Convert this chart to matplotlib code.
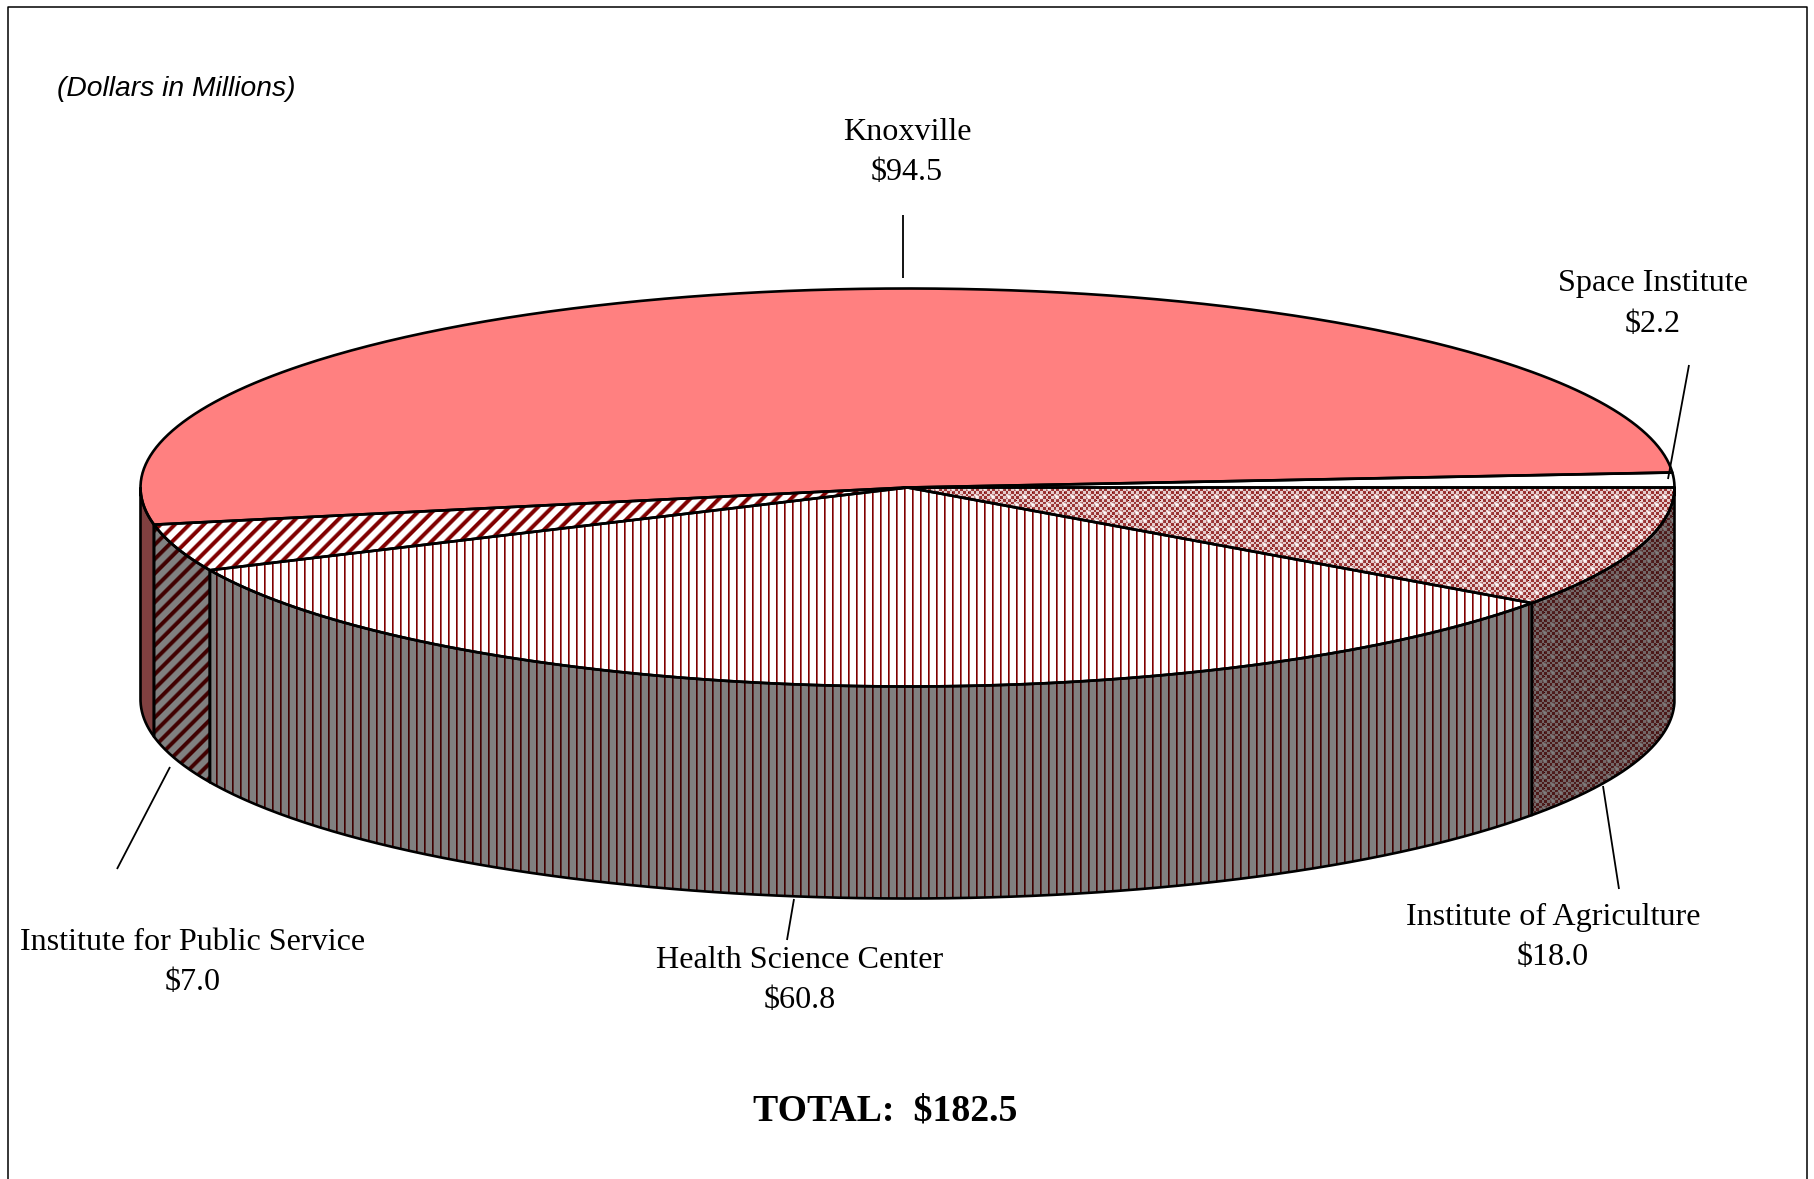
import numpy as np
import matplotlib
matplotlib.use("Agg")
import matplotlib.pyplot as plt
from matplotlib.patches import PathPatch
from matplotlib.path import Path

# slices in the order they go round, clockwise from the right hand edge
names = ["Institute of Agriculture", "Health Science Center", "Institute for Public Service", "Knoxville", "Space Institute"]
values = [18.0, 60.8, 7.0, 94.5, 2.2]
total_label = "TOTAL:  $182.5"
unit_label = "(Dollars in Millions)"

top_colors = ["#800000", "#800000", "#800000", "#FF8080", "#FFFFFF"]
patterns = ["dots", "vert", "diag", None, None]

# where the labels sit, pixel coords
label_pos = [(1553, 937), (800, 981), (193, 962), (907, 152), (1653, 304)]
leaders = [((1603, 786), (1619, 889)), ((794, 899), (787, 940)), ((170, 767), (117, 869)),
           ((903, 215), (903, 278)), ((1689, 365), (1668, 479))]

W, H = 1815, 1179
cx, cy = 907.5, 487.5
rx, ry = 767, 199
depth = 212

fig = plt.figure(figsize=(W / 100, H / 100), dpi=100)
ax = fig.add_axes([0, 0, 1, 1])
ax.set_xlim(0, W)
ax.set_ylim(H, 0)
ax.axis("off")

yy, xx = np.mgrid[0:H, 0:W]


def texture(kind, fg, bg):
    fg = np.array(matplotlib.colors.to_rgb(fg))
    bg = np.array(matplotlib.colors.to_rgb(bg))
    if kind == "vert":
        a = np.where(xx % 8 == 0, 1.0, np.where(xx % 8 == 1, 0.65, 0.0))
    elif kind == "diag":
        d = np.abs(((xx + yy) % 14.4) - 7.2)
        a = np.clip(3.8 - d, 0, 2.0) / 2.0
    else:
        cell = np.floor(xx * 6 / 16).astype(int) + np.floor(yy * 6 / 16).astype(int)
        a = 0.5 + ((cell % 2) - 0.5) * 0.6
        for ox, oy in [(0, 0), (8, 8)]:
            dx = (xx - ox + 8) % 16 - 8
            dy = (yy - oy + 8) % 16 - 8
            a = a * (1 - np.exp(-(dx ** 2 + dy ** 2) / 5.0))
        a = np.where((xx % 16 == 8) & (yy % 8 == 4), 1.0, a)
    return bg * (1 - a[..., None]) + fg * a[..., None]


def ell(t):
    return np.column_stack([cx + rx * np.cos(t), cy + ry * np.sin(t)])


def fill(pts, color, kind, bg):
    patch = PathPatch(Path(np.vstack([pts, pts[:1]])), fc=bg if kind else color, ec="none", zorder=2)
    ax.add_patch(patch)
    if kind:
        im = ax.imshow(texture(kind, color, bg), extent=[0, W, H, 0], interpolation="nearest", aspect="auto", zorder=3)
        im.set_clip_path(patch)
    outline = PathPatch(Path(np.vstack([pts, pts[:1]])), fc="none", ec="black", lw=1.9, zorder=4, joinstyle="round")
    ax.add_patch(outline)


edges = np.deg2rad(np.r_[0, np.cumsum(values)] / sum(values) * 360)

# sides first, only the front half shows
for i in range(len(values)):
    a, b = edges[i], min(edges[i + 1], np.pi)
    if a >= np.pi:
        continue
    t = np.linspace(a, b, 150)
    low = ell(t) + [0, depth]
    high = ell(t[::-1])
    c = matplotlib.colors.to_rgb(top_colors[i])
    dark = tuple(v / 2 for v in c)
    fill(np.vstack([high, low]), dark, patterns[i], "#808080")

# top surface
for i in range(len(values)):
    t = np.linspace(edges[i], edges[i + 1], 300)
    pts = np.vstack([[cx, cy], ell(t)])
    fill(pts, top_colors[i], patterns[i], "#FFFFFF")

for (name, v, p) in zip(names, values, label_pos):
    ax.text(p[0], p[1], f"{name}\n${v}", ha="center", va="center", family="Liberation Serif",
            fontsize=23.1, linespacing=1.5, parse_math=False, color="black", zorder=6)

for p0, p1 in leaders:
    ax.plot([p0[0], p1[0]], [p0[1], p1[1]], color="black", lw=1.3, zorder=5, solid_capstyle="butt")

ax.text(885, 1111, total_label, ha="center", va="center", family="Liberation Serif", weight="bold",
        fontsize=27.2, parse_math=False)
ax.text(57, 89, unit_label, ha="left", va="center", family="Liberation Sans", style="italic", fontsize=20.3)

# frame, open at the bottom
ax.plot([8, 8, 1807, 1807], [H, 7, 7, H], color="black", lw=1.1, zorder=1)

fig.savefig("out.png", dpi=100)
